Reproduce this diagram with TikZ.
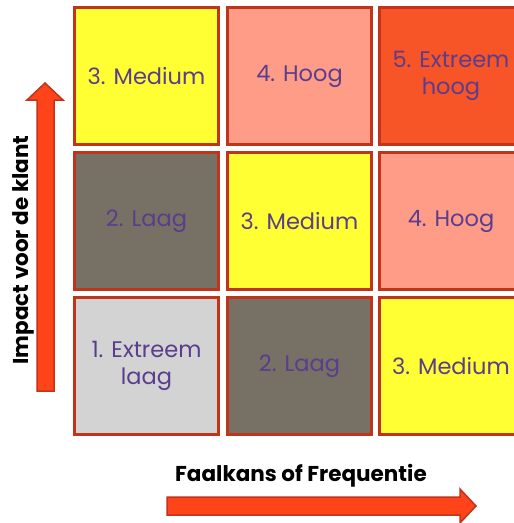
\documentclass[tikz,border=0pt]{standalone}
\usepackage{fontspec}
\setmainfont{Poppins}
\definecolor{rand}{HTML}{C0341C}
\definecolor{geel}{HTML}{FFFF33}
\definecolor{zalm}{HTML}{FF9C88}
\definecolor{rood}{HTML}{F75428}
\definecolor{donker}{HTML}{767065}
\definecolor{licht}{HTML}{D3D3D3}
\definecolor{pijl}{HTML}{FF4419}
\definecolor{tekst}{HTML}{5A3D8C}
\tikzset{
  vak/.style={draw=rand,line width=3pt,minimum width=144pt,minimum height=137pt,
    align=center,text=tekst,font=\fontsize{22.5}{27}\selectfont,inner sep=0pt},
  as/.style={font=\bfseries\fontsize{21.5}{24}\selectfont,text=black}
}
\begin{document}
\begin{tikzpicture}[x=1pt,y=-1pt]
\useasboundingbox (0,0) rectangle (514,523);
\clip (0,0) rectangle (514,523);
% rij 1
\node[vak,fill=geel] (m13) at (146.5,76) {3. Medium};
\node[vak,fill=zalm] (m23) at (299.5,76) {4. Hoog};
\node[vak,fill=rood] (m33) at (451,76) {5. Extreem\\hoog};
% rij 2
\node[vak,fill=donker] (m12) at (146.5,221) {2. Laag};
\node[vak,fill=geel] (m22) at (299.5,221) {3. Medium};
\node[vak,fill=zalm] (m32) at (451,221) {4. Hoog};
% rij 3
\node[vak,fill=licht] (m11) at (146.5,366) {1. Extreem\\laag};
\node[vak,fill=donker] (m21) at (299.5,366) {2. Laag};
\node[vak,fill=geel] (m31) at (451,366) {3. Medium};
% assen
\draw[fill=pijl,draw=rand,line width=1.5pt] (37,391) -- (37,100) -- (27,100) -- (45,83) -- (63,100) -- (54,100) -- (54,391) -- cycle;
\draw[fill=pijl,draw=rand,line width=1.5pt] (167,497) -- (460,497) -- (460,489) -- (476,506) -- (460,523) -- (460,515) -- (167,515) -- cycle;
\node[as,rotate=90] (impact) at (23,250) {Impact voor de klant};
\node[as] (faal) at (301,476) {Faalkans of Frequentie};
\end{tikzpicture}
\end{document}
